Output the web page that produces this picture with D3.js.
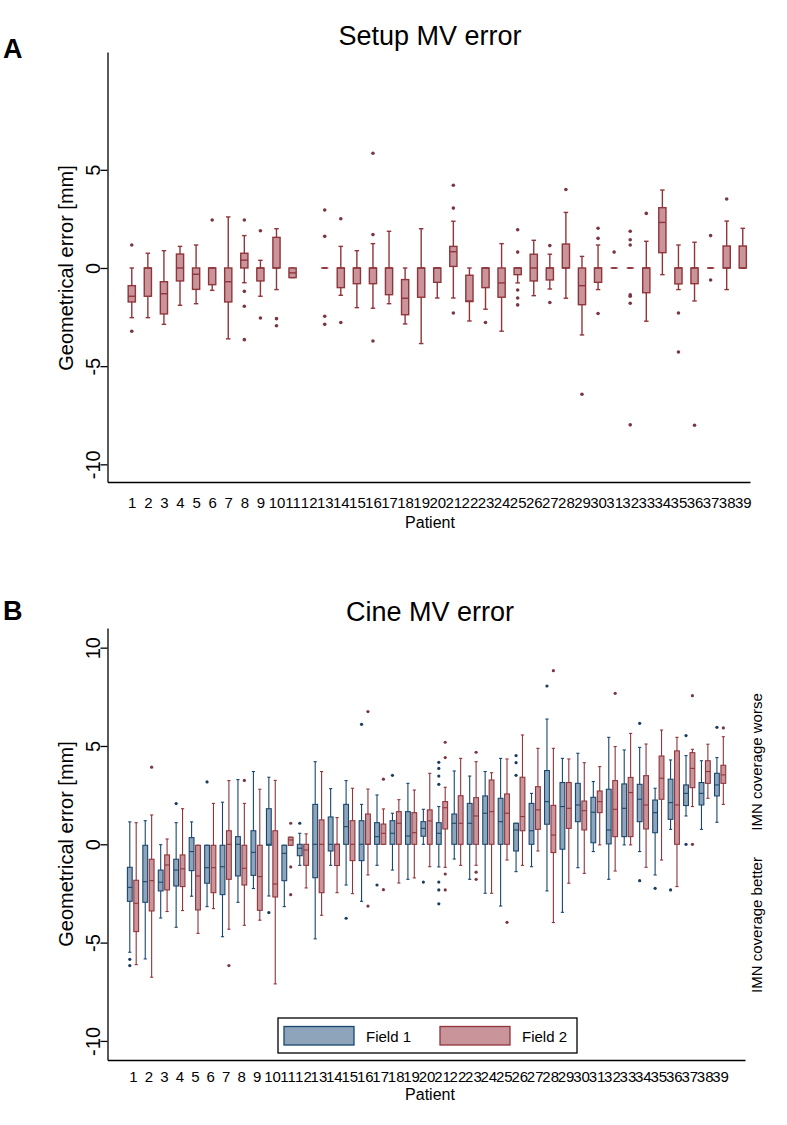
<!DOCTYPE html>
<html>
<head>
<meta charset="utf-8">
<script src="https://cdn.jsdelivr.net/npm/d3@7"></script>
<style>
  body { margin: 0; background: #fff; }
  svg { display: block; font-family: "Liberation Sans", Arial, sans-serif; }
</style>
</head>
<body>
<div id="chart"></div>
<script>
// patients on the x axis
var patients = d3.range(1, 40);

// Panel A: setup MV error, one box per patient (null = no data)
var setupLo  = [-2.53,-2.53,-2.87,-1.90,-1.82,-1.14,-3.61,-0.75,-1.44,-1.10,-0.49,null,0,-1.39,-2.02,-2.05,-1.82,-2.85,-3.85,-1.53,-1.53,-2.70,-2.10,-3.22,-0.76,-1.41,-1.07,-1.54,-3.41,-1.10,0,0,-2.71,-0.34,-1.10,-1.68,0,-1.10,0];
var setupQ1  = [-1.73,-1.44,-2.34,-0.66,-1.09,-0.85,-1.73,0,-0.66,0,-0.49,null,0,-1.00,-0.80,-0.80,-1.36,-2.38,-1.49,-0.73,0.08,-1.71,-1.00,-1.49,-0.34,-0.66,-0.61,0,-1.87,-0.73,0,0,-1.26,0.78,-0.81,-0.80,0,0,0];
var setupMed = [-1.44,0,-1.31,0,-0.32,0,-0.70,0.40,0,0,-0.25,null,0,0,0,0,0,-1.54,0,0,0.83,-1.68,0,-0.76,0,0,0,0,-0.90,0,0,0,0,2.32,0,0,0,0,0];
var setupQ3  = [-0.90,0,-0.70,0.71,0,0,0,0.75,0,1.56,0,null,0,0,0,0,0,-0.59,0,0,1.10,-0.37,0,0,0,0.70,0,1.22,0,0,0,0,0,3.07,0,0,0,1.12,1.12];
var setupHi  = [0,0.75,0.88,1.10,1.17,0,2.60,1.65,0.39,2.00,0,null,0,1.10,0.88,1.24,1.87,0,2.00,0,2.38,0,0,1.24,0,1.41,0.70,2.83,0.59,1.17,0,0,1.36,3.97,1.17,1.31,0,2.39,2.02];
var setupOut = [[1.17,-3.22],[],[],[],[],[2.44],[],[2.44,-1.19,-1.95,-3.65],[1.90,-2.55],[-2.58,-2.94],[],[],[2.95,1.61,-2.46,-2.87],[2.51,-2.78],[],[5.84,1.70,-3.72],[],[],[],[],[4.21,3.05,-2.29],[],[-2.78],[],[1.95,0.81,-1.12,-1.53,-1.88],[],[1.14,-1.76],[4.00],[-6.43],[2.02,1.51,-2.32],[0.81],[1.87,1.44,1.17,-1.37,-1.44,-1.80,-7.99],[2.78],[],[-2.29,-4.28],[-8.01],[1.65,-0.61],[3.51],[]];

// Panel B: cine MV error, Field 1
var f1Lo  = [-5.49,-5.83,-3.75,-4.22,-2.64,-3.17,-4.70,-2.95,-2.25,-2.63,-3.17,-1.07,-4.81,-1.07,-2.07,-2.90,-1.07,-1.31,-1.78,0,-1.15,-0.75,-1.78,-2.49,-3.14,-1.39,-1.14,-2.37,-3.46,-1.19,-0.37,-1.78,-0.03,-0.37,-1.56,0.76,1.44,0.76,1.12];
var f1Q1  = [-2.90,-2.95,-2.37,-2.12,-1.34,-1.98,-2.56,-1.61,-1.58,-0.05,-1.85,-0.58,-1.70,-0.34,0,-0.83,0,0,0,0.41,0,0,0,0,0,-0.34,0,1.02,-0.25,1.15,0.08,0.02,0.39,1.15,0.59,1.27,1.97,2.00,2.46];
var f1Med = [-2.19,-1.90,-1.93,-1.31,-0.37,-1.19,-1.14,0,-0.41,0,-0.46,-0.20,0,0,0.90,0,0.39,0.56,0.42,0.81,0.56,1.07,1.07,1.58,1.15,0.73,0.69,2.17,1.92,2.00,1.63,0.73,1.83,2.29,1.61,2.12,2.59,2.59,3.02];
var f1Q3  = [-1.17,-0.05,-1.31,-0.76,0.34,-0.05,-0.05,0.39,0.69,1.81,-0.05,0,2.03,1.39,2.03,1.20,1.10,1.20,1.66,1.15,1.10,1.54,2.08,2.46,2.34,1.07,2.08,3.75,3.14,3.10,2.39,2.80,3.07,3.05,2.25,3.31,3.02,3.14,3.61];
var f1Hi  = [1.14,1.20,-0.02,1.10,1.14,-0.05,2.14,3.29,3.70,3.41,-0.05,0.56,4.20,2.83,3.24,2.03,2.51,1.58,3.10,1.78,1.92,3.73,3.47,3.70,4.37,1.07,2.59,6.37,4.37,4.63,3.19,5.44,4.80,4.93,2.85,4.29,4.51,4.25,4.41];
var f1Out = [[-5.85,-6.17],[],[],[2.07],[],[3.17],[],[],[],[-3.47],[],[1.07],[],[],[-3.76],[6.10],[-2.07],[3.51],[],[-1.92],[4.17,3.86,3.47,3.05,-1.92,-2.32,-3.03],[],[],[],[],[4.51,4.15,3.51],[],[8.05],[],[],[],[],[],[6.15,-1.85],[-2.24],[-2.32],[5.53,0],[],[5.95]];

// Panel B: cine MV error, Field 2
var f2Lo  = [-6.12,-6.76,-3.42,-3.37,-4.53,-3.27,-4.32,-4.12,-3.86,-7.10,-0.05,-2.22,-3.61,-2.46,-2.51,-1.56,0,-1.97,-1.71,-1.14,-1.17,-1.07,-1.07,-2.49,-0.80,-1.07,-0.34,-3.98,-1.98,-1.48,-0.03,-1.36,-0.03,-1.17,-0.80,-2.15,1.92,2.34,2.03];
var f2Q1  = [-4.44,-3.39,-2.32,-2.15,-3.34,-2.46,-1.78,-2.07,-3.36,-2.68,-0.05,-1.07,-2.46,-1.08,-0.83,0,0,0,0,0,0.78,0,0,0,0,0.69,0.76,-0.42,0.81,0.73,1.61,0.39,0.39,0.78,2.29,0,2.88,3.10,3.10];
var f2Med = [-3.00,-1.85,-1.05,-1.25,-1.61,-1.19,0,-1.22,-1.64,-2.02,0.22,-0.29,0,0,0,0,0.56,1.07,0.59,1.19,1.86,1.07,1.44,1.66,1.58,1.41,1.75,0.47,1.83,1.71,2.17,1.78,2.63,2.00,3.36,2.00,3.86,3.70,3.53];
var f2Q3  = [-1.83,-0.76,-0.54,-0.54,-0.05,-0.05,0.69,-0.05,-0.05,0.69,0.36,0,1.24,0,1.20,1.54,1.03,1.66,1.61,1.75,2.17,2.47,2.37,3.27,2.56,3.41,2.93,1.98,3.14,2.20,2.71,3.24,3.40,3.49,4.49,4.75,4.66,4.25,4.02];
var f2Hi  = [1.10,1.49,0.27,1.81,-0.05,2.08,3.24,2.08,2.80,3.25,0.36,0.53,3.70,1.36,2.85,2.81,1.80,2.27,2.76,3.61,2.90,4.37,4.20,3.64,4.34,5.56,4.88,4.88,4.34,4.15,3.95,4.97,5.64,5.10,5.81,5.44,4.83,5.09,5.47];
var f2Out = [[],[3.92],[],[],[],[],[-6.17],[3.25],[],[],[1.07,-1.15,-2.56],[],[],[],[],[6.75,-3.14],[3.31,-2.31],[],[],[],[5.19,4.41,-1.51,-2.32],[],[4.68,-1.42,-1.78],[],[-3.97],[],[],[8.83],[],[],[],[7.68],[],[],[],[],[7.56,0],[],[5.92]];

var tickA = [-10, -5, 0, 5];
var tickB = [-10, -5, 0, 5, 10];
var legendLabels = ["Field 1", "Field 2"];

var blue = { fill: "#8ea4bb", stroke: "#1a476f", dot: "#1a3c5e" };
var red  = { fill: "#c9959a", stroke: "#90353b", dot: "#7a3741" };

var svg = d3.select("#chart").append("svg")
    .attr("width", 787)
    .attr("height", 1125);

svg.append("rect").attr("width", 787).attr("height", 1125).attr("fill", "#fff");

// scales
var xA = d3.scaleLinear().domain([-0.51, 39.45]).range([107.5, 750]);
var yA = d3.scaleLinear().domain([-10.9, 11]).range([482, 52]);
var xB = d3.scaleLinear().domain([-0.65, 40.61]).range([107.5, 745]);
var yB = d3.scaleLinear().domain([-10.97, 11]).range([1060, 628]);

function drawAxes(x, y, ticks, bottom, labelGap) {
    var xaxis = svg.append("g")
        .attr("transform", `translate(0, ${bottom})`)
        .call(d3.axisBottom(x).tickValues(patients).tickSize(0).tickSizeOuter(0).tickFormat(d3.format("d")));
    xaxis.select(".domain").attr("stroke", "#000").attr("stroke-width", 1.3);
    xaxis.selectAll("text")
        .attr("y", labelGap)
        .attr("dy", null)
        .attr("font-size", 15)
        .attr("font-family", "Liberation Sans, Arial, sans-serif")
        .attr("fill", "#000");

    var left = x.range()[0];
    var yaxis = svg.append("g")
        .attr("transform", `translate(${left}, 0)`)
        .call(d3.axisLeft(y).tickValues(ticks).tickSize(7).tickSizeOuter(0).tickFormat(d => String(d)));
    yaxis.select(".domain").attr("stroke", "#000").attr("stroke-width", 1.3);
    yaxis.selectAll(".tick line").attr("stroke", "#000").attr("stroke-width", 1.3);
    yaxis.selectAll("text")
        .attr("x", null)
        .attr("dy", null)
        .attr("y", -7.5)
        .attr("transform", "rotate(-90)")
        .attr("text-anchor", "middle")
        .attr("font-size", 20)
        .attr("font-family", "Liberation Sans, Arial, sans-serif")
        .attr("fill", "#000");
}

function drawBoxes(x, y, dx, lo, q1, med, q3, hi, out, col, w, capW, lw, r) {
    var items = patients.map(function (p, i) {
        return { p: p, lo: lo[i], q1: q1[i], med: med[i], q3: q3[i], hi: hi[i], out: out[i] };
    }).filter(d => d.q1 !== null);

    var grp = svg.append("g").selectAll("g")
        .data(items)
        .enter()
        .append("g")
        .attr("transform", d => `translate(${x(d.p) + dx}, 0)`);

    grp.append("line")
        .attr("y1", d => y(d.q3)).attr("y2", d => y(d.hi))
        .attr("stroke", col.stroke).attr("stroke-width", lw);
    grp.append("line")
        .attr("y1", d => y(d.q1)).attr("y2", d => y(d.lo))
        .attr("stroke", col.stroke).attr("stroke-width", lw);
    grp.append("line")
        .attr("x1", -capW / 2).attr("x2", capW / 2)
        .attr("y1", d => y(d.hi)).attr("y2", d => y(d.hi))
        .attr("stroke", col.stroke).attr("stroke-width", lw);
    grp.append("line")
        .attr("x1", -capW / 2).attr("x2", capW / 2)
        .attr("y1", d => y(d.lo)).attr("y2", d => y(d.lo))
        .attr("stroke", col.stroke).attr("stroke-width", lw);
    grp.append("rect")
        .attr("x", -w / 2)
        .attr("width", w)
        .attr("y", d => y(d.q3))
        .attr("height", d => y(d.q1) - y(d.q3))
        .attr("fill", col.fill)
        .attr("stroke", col.stroke)
        .attr("stroke-width", lw);
    grp.append("line")
        .attr("x1", -w / 2).attr("x2", w / 2)
        .attr("y1", d => y(d.med)).attr("y2", d => y(d.med))
        .attr("stroke", col.stroke).attr("stroke-width", lw);
    grp.selectAll("circle")
        .data(d => d.out)
        .enter()
        .append("circle")
        .attr("cy", v => y(v))
        .attr("r", r)
        .attr("fill", col.dot);
}

function text(x, y, s, size, opts) {
    opts = opts || {};
    var t = svg.append("text")
        .attr("x", x).attr("y", y)
        .attr("font-size", size)
        .attr("text-anchor", opts.anchor || "middle")
        .attr("fill", "#000")
        .text(s);
    if (opts.bold) t.attr("font-weight", "bold");
    if (opts.rotate) t.attr("transform", `rotate(-90, ${x}, ${y})`);
    return t;
}

// ---- Panel A ----
drawAxes(xA, yA, tickA, 482, 26);
drawBoxes(xA, yA, 0, setupLo, setupQ1, setupMed, setupQ3, setupHi, setupOut, red, 7.2, 4.5, 1.4, 1.8);
text(430, 45, "Setup MV error", 27);
text(3, 58, "A", 27, { anchor: "start", bold: true });
text(73, 268, "Geometrical error [mm]", 20, { rotate: true });
text(430, 528, "Patient", 16);

// ---- Panel B ----
drawAxes(xB, yB, tickB, 1060, 22);
drawBoxes(xB, yB, -3.2, f1Lo, f1Q1, f1Med, f1Q3, f1Hi, f1Out, blue, 4.8, 3.2, 1.1, 1.6);
drawBoxes(xB, yB, 3.2, f2Lo, f2Q1, f2Med, f2Q3, f2Hi, f2Out, red, 4.8, 3.2, 1.1, 1.6);
text(430, 621, "Cine MV error", 27);
text(3, 620, "B", 27, { anchor: "start", bold: true });
text(73, 844, "Geometrical error [mm]", 20, { rotate: true });
text(430, 1100, "Patient", 16);
text(762, 762, "IMN coverage worse", 15, { rotate: true });
text(762, 925, "IMN coverage better", 15, { rotate: true });

// legend
svg.append("rect")
    .attr("x", 278).attr("y", 1018).attr("width", 299).attr("height", 35)
    .attr("fill", "#fff").attr("stroke", "#000").attr("stroke-width", 1.3);
var legendCols = [blue, red];
var legendX = [284, 440];
legendLabels.forEach(function (lab, i) {
    svg.append("rect")
        .attr("x", legendX[i]).attr("y", 1026.5).attr("width", 70).attr("height", 18.5)
        .attr("fill", legendCols[i].fill).attr("stroke", legendCols[i].stroke).attr("stroke-width", 1.3);
    text(legendX[i] + 82, 1041.5, lab, 15, { anchor: "start" });
});
</script>
</body>
</html>
